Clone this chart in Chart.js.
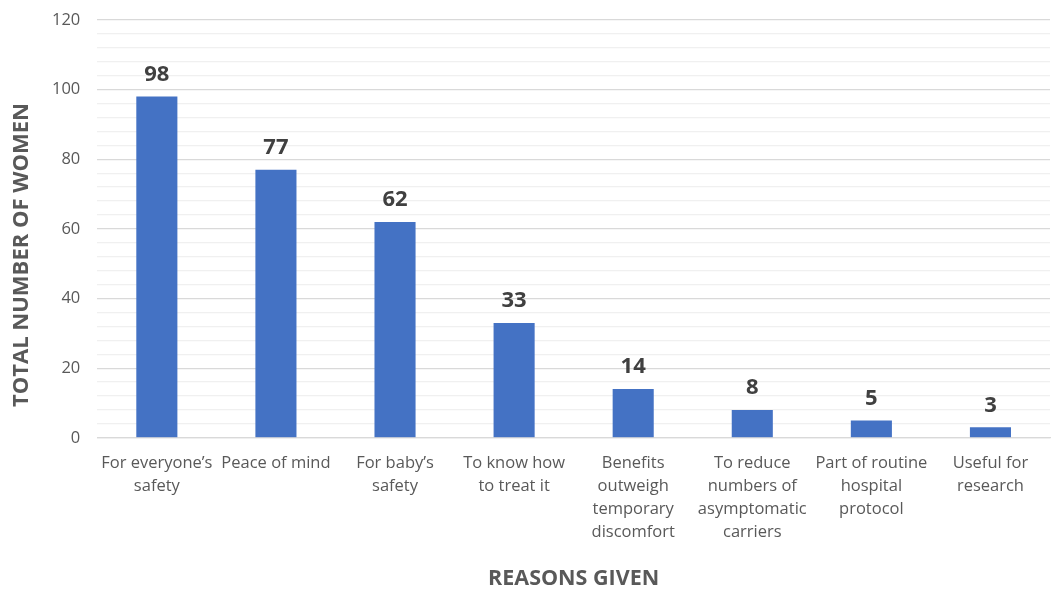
<!DOCTYPE html>
<html>
<head>
<meta charset="utf-8">
<script src="https://cdn.jsdelivr.net/npm/chart.js@4"></script>
<style>
  html, body { margin: 0; padding: 0; background: #fff; }
  #wrap { width: 1051px; height: 590px; }
</style>
</head>
<body>
<div id="wrap"><canvas id="chart" width="1051" height="590"></canvas></div>
<script>
const reasons = [
  ["For everyone\u2019s", "safety"],
  ["Peace of mind"],
  ["For baby\u2019s", "safety"],
  ["To know how", "to treat it"],
  ["Benefits", "outweigh", "temporary", "discomfort"],
  ["To reduce", "numbers of", "asymptomatic", "carriers"],
  ["Part of routine", "hospital", "protocol"],
  ["Useful for", "research"]
];
const women = [98, 77, 62, 33, 14, 8, 5, 3];
const yTicks = [0, 20, 40, 60, 80, 100, 120];
const yTitle = "TOTAL NUMBER OF WOMEN";

const FONT = "'Open Sans', 'DejaVu Sans', sans-serif";

// values above the bars + y title placed a bit lower, like the original
const barLabels = {
  id: "barLabels",
  afterDatasetsDraw(chart) {
    const ctx = chart.ctx;
    const meta = chart.getDatasetMeta(0);
    ctx.save();
    ctx.font = "bold 22px " + FONT;
    ctx.fillStyle = "#404040";
    ctx.textAlign = "center";
    ctx.textBaseline = "bottom";
    meta.data.forEach((bar, i) => {
      ctx.fillText(women[i], bar.x, bar.y - 11);
    });
    ctx.restore();

    ctx.save();
    ctx.translate(22, 255);
    ctx.rotate(-Math.PI / 2);
    ctx.font = "bold 22px " + FONT;
    ctx.fillStyle = "#595959";
    ctx.textAlign = "center";
    ctx.textBaseline = "middle";
    ctx.fillText(yTitle, 0, 0);
    ctx.restore();
  }
};

new Chart(document.getElementById("chart"), {
  type: "bar",
  data: {
    labels: reasons,
    datasets: [{
      label: "Women",
      data: women,
      backgroundColor: "#4472c4",
      barPercentage: 0.345,
      categoryPercentage: 1
    }]
  },
  options: {
    responsive: false,
    animation: false,
    layout: { padding: { top: 20, right: 1, left: 35, bottom: -2 } },
    plugins: {
      legend: { display: false },
      tooltip: { enabled: false }
    },
    scales: {
      x: {
        grid: { display: false },
        border: { display: true, color: "#d9d9d9", width: 1.3 },
        ticks: {
          color: "#595959",
          font: { family: FONT, size: 16.5, lineHeight: 1.4 },
          maxRotation: 0,
          autoSkip: false,
          padding: 6
        },
        title: {
          display: true,
          text: "REASONS GIVEN",
          color: "#595959",
          font: { family: FONT, size: 21.5, weight: "bold" },
          padding: { top: 16, bottom: 0 }
        }
      },
      y: {
        min: 0,
        max: 120,
        border: { display: false },
        grid: {
          color: c => (yTicks.includes(c.tick.value) ? "#d9d9d9" : "#f0f0f0"),
          lineWidth: 1.3,
          drawTicks: false
        },
        ticks: {
          stepSize: 4,
          autoSkip: false,
          color: "#595959",
          font: { family: FONT, size: 16.5 },
          padding: 17,
          callback: v => (yTicks.includes(v) ? v : "")
        },
        afterFit: s => { s.paddingTop = 0; }
      }
    }
  },
  plugins: [barLabels]
});
</script>
</body>
</html>
